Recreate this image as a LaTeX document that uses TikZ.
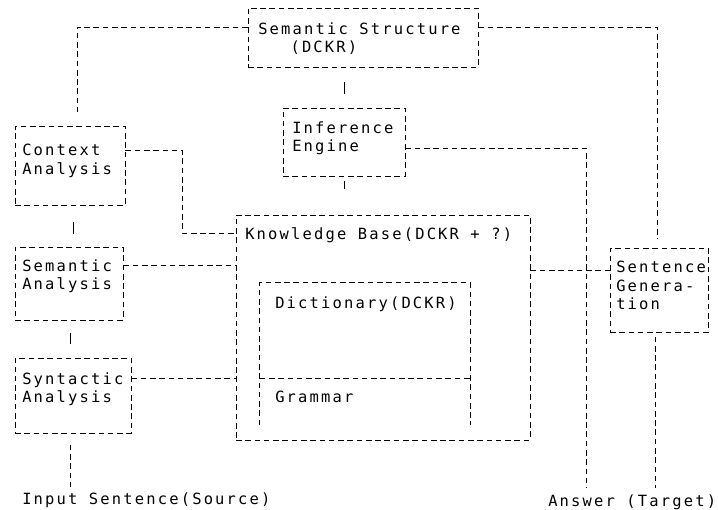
\documentclass[tikz,border=0pt]{standalone}
\usepackage{fontspec}
\newfontfamily\dotfont[LetterSpace=14]{DejaVu Sans Mono}
\usetikzlibrary{fit}
\tikzset{
  box/.style={draw, line width=0.6pt, dash pattern=on 4pt off 2.6pt, inner sep=0pt},
  link/.style={draw, line width=0.6pt, dash pattern=on 4pt off 2.6pt},
  stub/.style={draw, line width=0.6pt},
  txt/.style={font=\dotfont\fontsize{11}{13}\selectfont, align=left, inner sep=0pt, anchor=north west},
}
\begin{document}
\begin{tikzpicture}[x=0.025cm, y=-0.025cm]
		\useasboundingbox (0,0) rectangle (718,510);

		% boxes
		\node[box, fit={(248,8) (478,67)}] (ss) {};
		\node[box, fit={(283,108) (405,176)}] (ie) {};
		\node[box, fit={(15,126) (125,205)}] (ctx) {};
		\node[box, fit={(15,247) (123,320)}] (sa) {};
		\node[box, fit={(15,358) (131,433)}] (sy) {};
		\node[box, fit={(236,215) (530,440)}] (kb) {};
		\node[box, fit={(610,248) (708,332)}] (sg) {};
		\node[inner sep=0pt, fit={(260,283) (470,425)}] (dict) {};
			\draw[link] (dict.south west) |- (dict.north east) -- (dict.south east);
			\draw[link] (dict.west |- 0,378) -- (dict.east |- 0,378);

		% texts
		\node[txt] (ssT) at (258,22) {Semantic Structure\\\phantom{xxx}(DCKR)};
		\node[txt] (ieT) at (292,121) {Inference\\Engine};
		\node[txt] (ctxT) at (22,144) {Context\\Analysis};
		\node[txt] (saT) at (22,259) {Semantic\\Analysis};
		\node[txt] (syT) at (22,372) {Syntactic\\Analysis};
		\node[txt] (kbT) at (245,227) {Knowledge Base(DCKR + ?)};
		\node[txt] (dictT) at (275,296) {Dictionary(DCKR)};
		\node[txt] (gramT) at (275,391) {Grammar};
		\node[txt] (sgT) at (616,261) {Sentence\\Genera-\\tion};
		\node[txt] (inp) at (22,492) {Input Sentence(Source)};
		\node[txt] (ans) at (548,494) {Answer (Target)};

		% connections
		\draw[link, shorten >=10pt] (ss.west |- 0,27) -| (ctx.north -| 77,0);
		\draw[stub, shorten <=10.5pt, shorten >=10pt] (ss.south -| ie.north) -- (ie.north);
		\draw[stub, shorten <=3pt, shorten >=18pt] (ie.south) -- (kb.north -| ie.south);
		\draw[link, shorten >=4pt] (ie.east |- 0,148) -| (ans.north -| 586,0);
		\draw[link, shorten >=6pt] (ss.east |- 0,27) -| (sg.north -| 657,0);
		\draw[link] (ctx.east |- 0,150) -- (182,150) -- (182,233) -- (kb.west |- 0,233);
		\draw[link] (sa.east |- 0,265) -- (kb.west |- 0,265);
		\draw[link] (sy.east |- 0,378) -- (kb.west |- 0,378);
		\draw[stub, shorten <=12pt, shorten >=9pt] (ctx.south -| 73,0) -- (sa.north -| 73,0);
		\draw[stub, shorten <=9pt, shorten >=10pt] (sa.south -| 70,0) -- (sy.north -| 70,0);
		\draw[link, shorten <=8pt, shorten >=3pt] (sy.south -| 70,0) -- (inp.north -| 70,0);
		\draw[link] (kb.east |- 0,270) -- (sg.west |- 0,270);
		\draw[link, shorten <=3pt, shorten >=4pt] (sg.south -| 655,0) -- (ans.north -| 655,0);

\end{tikzpicture}
\end{document}
